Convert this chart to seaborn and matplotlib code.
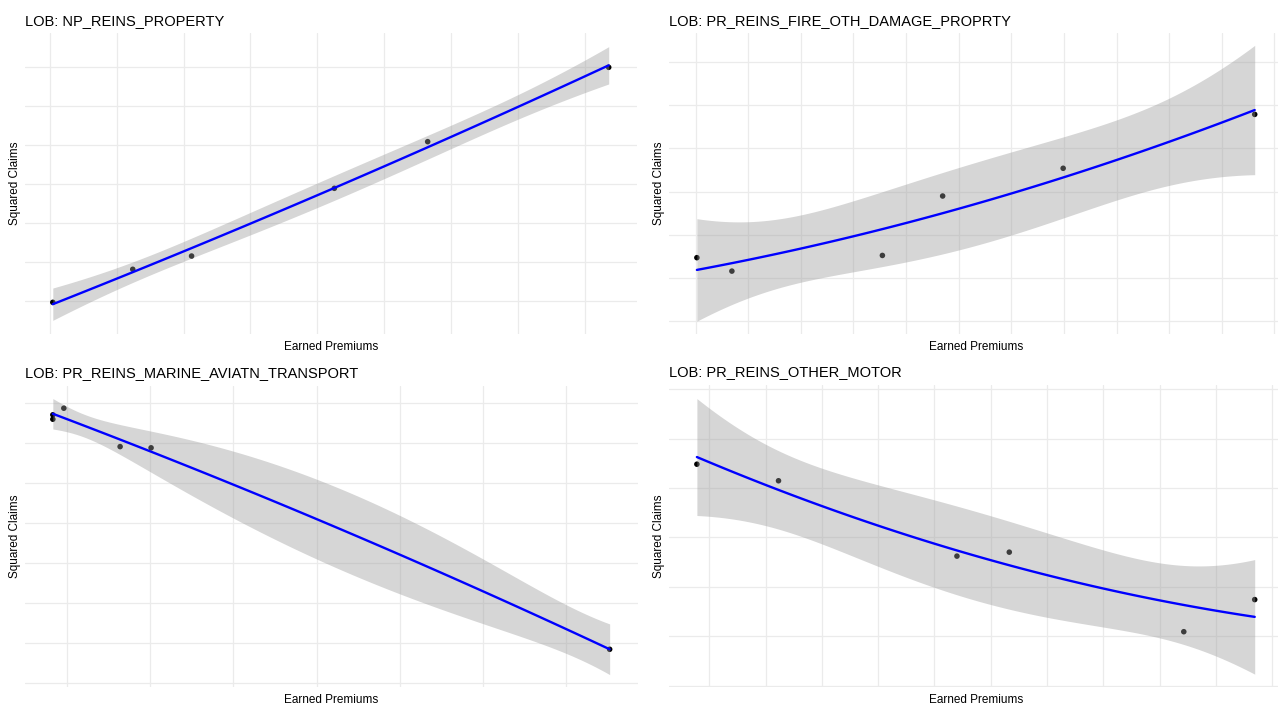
import math
import numpy as np
import pandas as pd
import matplotlib
matplotlib.use("Agg")
import matplotlib.pyplot as plt
from matplotlib.ticker import MultipleLocator
import seaborn as sns

# ---- data: earned premiums vs squared claims per line of business ----
lob_names = [
    "NP_REINS_PROPERTY",
    "PR_REINS_FIRE_OTH_DAMAGE_PROPRTY",
    "PR_REINS_MARINE_AVIATN_TRANSPORT",
    "PR_REINS_OTHER_MOTOR",
]

premiums_property = [1.1, 31.0, 53.0, 106.4, 141.3, 209.0]
claims_property = [48.3, 90.6, 107.6, 194.3, 254.0, 349.2]

premiums_fire = [20.5, 33.8, 91.0, 113.9, 159.7, 232.5]
claims_fire = [61.6, 53.8, 62.9, 97.4, 113.5, 144.8]

premiums_marine = [41.6, 41.6, 48.2, 82.0, 100.6, 376.0]
claims_marine = [132.0, 134.2, 137.5, 118.3, 117.7, 17.0]

premiums_motor = [7.8, 22.3, 54.0, 63.3, 94.3, 106.9]
claims_motor = [109.6, 102.9, 72.4, 74.0, 41.8, 54.8]

premiums = [premiums_property, premiums_fire, premiums_marine, premiums_motor]
claims = [claims_property, claims_fire, claims_marine, claims_motor]

# grid spacing (x, y) and visible claim range per panel
grid_steps = [(25, 50), (20, 25), (50, 20), (10, 20)]
claim_limits = [(7.25, 393.15), (17.05, 192.05), (-1.85, 148.85), (19.42, 141.74)]


def t_quantile(p, dof):
    """Student-t quantile by integrating the density."""
    g = np.linspace(0.0, 80.0, 400001)
    c = math.gamma((dof + 1) / 2) / (math.sqrt(dof * math.pi) * math.gamma(dof / 2))
    pdf = c * (1 + g ** 2 / dof) ** (-(dof + 1) / 2)
    cdf = 0.5 + np.concatenate([[0.0], np.cumsum((pdf[1:] + pdf[:-1]) / 2 * np.diff(g))])
    return float(np.interp(p, cdf, g))


def smooth_fit(x, y, n_grid=120, level=0.95):
    """Quadratic least-squares smoother with a pointwise confidence band."""
    x = np.asarray(x, float)
    y = np.asarray(y, float)
    mu, sd = x.mean(), x.std()
    z = (x - mu) / sd
    X = np.column_stack([np.ones_like(z), z, z ** 2])
    beta, *_ = np.linalg.lstsq(X, y, rcond=None)
    resid = y - X @ beta
    dof = len(x) - X.shape[1]
    sigma = math.sqrt(resid @ resid / dof)
    cov = np.linalg.inv(X.T @ X)
    xs = np.linspace(x.min(), x.max(), n_grid)
    zs = (xs - mu) / sd
    Xs = np.column_stack([np.ones_like(zs), zs, zs ** 2])
    fit = Xs @ beta
    se = sigma * np.sqrt(np.einsum("ij,jk,ik->i", Xs, cov, Xs))
    t = t_quantile(0.5 + level / 2, dof)
    return pd.DataFrame({"x": xs, "fit": fit, "lo": fit - t * se, "hi": fit + t * se})


sns.set_theme(style="white")
plt.rcParams["font.family"] = ["Liberation Sans", "DejaVu Sans"]

W, H = 1278, 709
fig = plt.figure(figsize=(W / 100, H / 100), dpi=100)

# panel boxes in pixels: left, top, right, bottom
boxes = [
    (25.0, 33.0, 636.5, 334.4),
    (669.0, 33.0, 1282.6, 334.4),
    (25.0, 385.5, 637.5, 687.0),
    (669.0, 384.8, 1282.6, 687.0),
]

for i in range(4):
    l, t, r, b = boxes[i]
    ax = fig.add_axes([l / W, 1 - b / H, (r - l) / W, (b - t) / H])
    df = pd.DataFrame({"Earned Premiums": premiums[i], "Squared Claims": claims[i]})
    band = smooth_fit(df["Earned Premiums"], df["Squared Claims"])

    sns.scatterplot(data=df, x="Earned Premiums", y="Squared Claims", ax=ax,
                    color="black", s=16, edgecolor="none", zorder=2)
    ax.fill_between(band["x"], band["lo"], band["hi"], color="#999999",
                    alpha=0.4, linewidth=0, zorder=3)
    sns.lineplot(data=band, x="x", y="fit", ax=ax, color="#0000FF",
                 linewidth=1.7, zorder=4)

    xmin, xmax = df["Earned Premiums"].min(), df["Earned Premiums"].max()
    pad = 0.05 * (xmax - xmin)
    ax.set_xlim(xmin - pad, xmax + pad)
    ax.set_ylim(*claim_limits[i])

    sx, sy = grid_steps[i]
    ax.xaxis.set_major_locator(MultipleLocator(sx))
    ax.yaxis.set_major_locator(MultipleLocator(sy))
    ax.grid(True, color="#EBEBEB", linewidth=0.9, zorder=0)
    ax.set_axisbelow(True)
    ax.tick_params(length=0, labelbottom=False, labelleft=False)
    for s in ax.spines.values():
        s.set_visible(False)
    ax.set_facecolor("white")

    ax.set_title(f"LOB: {lob_names[i]}", loc="left", fontsize=10.5,
                 color="black", pad=6)
    ax.set_xlabel("Earned Premiums", fontsize=8.5, labelpad=5, color="black")
    ax.set_ylabel("Squared Claims", fontsize=8.5, labelpad=3, color="black")

fig.savefig("out.png", dpi=100, facecolor="white")
